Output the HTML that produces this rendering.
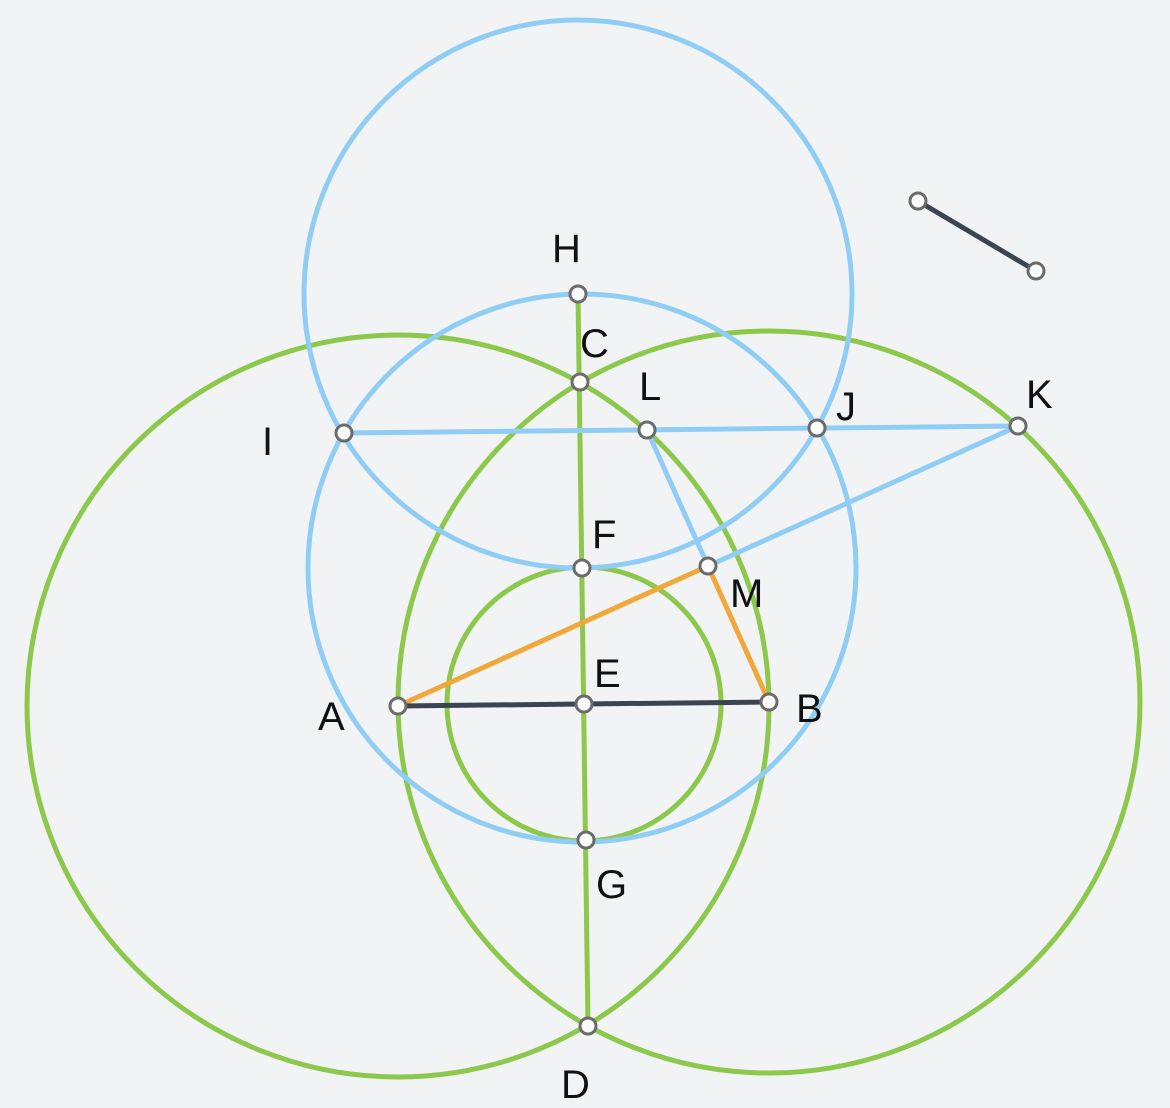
<!DOCTYPE html>
<html><head><meta charset="utf-8"><style>
html,body{margin:0;padding:0;background:#f2f3f5;}
svg{display:block}
text{font-family:"Liberation Sans",sans-serif;font-size:40px;fill:#111;}
</style></head><body>
<svg width="1170" height="1108" viewBox="0 0 1170 1108">
<rect width="1170" height="1108" fill="#f2f3f5"/>
<g fill="none" stroke-width="5">
<circle cx="398" cy="706" r="371" stroke="#8cc84b"/>
<circle cx="769" cy="702" r="371" stroke="#8cc84b"/>
<circle cx="584" cy="704" r="137" stroke="#8cc84b"/>
<circle cx="582" cy="568" r="274" stroke="#90cdf4"/>
<circle cx="578" cy="294" r="274" stroke="#90cdf4"/>
<line x1="578" y1="294" x2="588" y2="1026" stroke="#8cc84b"/>
<line x1="344" y1="433" x2="1018" y2="426" stroke="#90cdf4"/>
<line x1="1018" y1="426" x2="708" y2="566" stroke="#90cdf4"/>
<line x1="647" y1="430" x2="708" y2="566" stroke="#90cdf4"/>
<line x1="398" y1="706" x2="708" y2="566" stroke="#f0a83a"/>
<line x1="708" y1="566" x2="769" y2="702" stroke="#f0a83a"/>
<line x1="398" y1="706" x2="769" y2="702" stroke="#3b4551"/>
<line x1="918" y1="201" x2="1036" y2="271" stroke="#3b4551"/>
</g>
<g fill="#fff" stroke="#6b6b6b" stroke-width="3">
<circle cx="398" cy="706" r="8"/>
<circle cx="769" cy="702" r="8"/>
<circle cx="584" cy="704" r="8"/>
<circle cx="580" cy="382" r="8"/>
<circle cx="588" cy="1026" r="8"/>
<circle cx="582" cy="568" r="8"/>
<circle cx="586" cy="840" r="8"/>
<circle cx="578" cy="294" r="8"/>
<circle cx="344" cy="433" r="8"/>
<circle cx="817" cy="428" r="8"/>
<circle cx="1018" cy="426" r="8"/>
<circle cx="647" cy="430" r="8"/>
<circle cx="708" cy="566" r="8"/>
<circle cx="918" cy="201" r="8"/>
<circle cx="1036" cy="271" r="8"/>
</g>
<text x="318" y="730">A</text>
<text x="796" y="722">B</text>
<text x="580" y="357">C</text>
<text x="561" y="1098">D</text>
<text x="594" y="687">E</text>
<text x="592" y="548">F</text>
<text x="596" y="898">G</text>
<text x="552" y="262">H</text>
<text x="262" y="455">I</text>
<text x="836" y="420">J</text>
<text x="1026" y="408">K</text>
<text x="639" y="400">L</text>
<text x="730" y="607">M</text>
</svg>
</body></html>
